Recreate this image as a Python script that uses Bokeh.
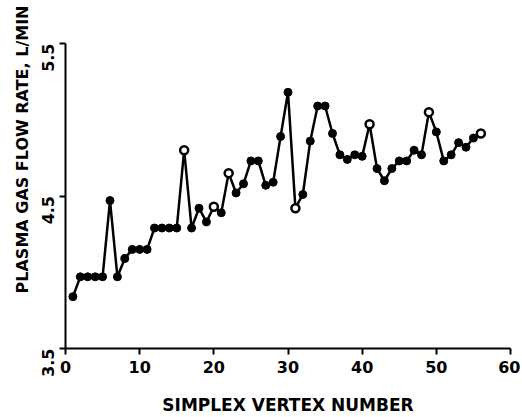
import math
from bokeh.plotting import figure
from bokeh.models import Range1d, FixedTicker, Title
from bokeh.embed import file_html
from bokeh.resources import INLINE

vertex = list(range(1, 57))
flow_rate = [3.84, 3.97, 3.97, 3.97, 3.97, 4.47, 3.97, 4.09, 4.15, 4.15,
             4.15, 4.29, 4.29, 4.29, 4.29, 4.80, 4.29, 4.42, 4.33, 4.43,
             4.39, 4.65, 4.52, 4.58, 4.73, 4.73, 4.57, 4.59, 4.89, 5.18,
             4.42, 4.51, 4.86, 5.09, 5.09, 4.91, 4.77, 4.74, 4.77, 4.76,
             4.97, 4.68, 4.60, 4.68, 4.73, 4.73, 4.80, 4.77, 5.05, 4.92,
             4.73, 4.77, 4.85, 4.82, 4.88, 4.91]
open_vertices = [16, 20, 22, 31, 41, 49, 56]
x_ticks = [0, 10, 20, 30, 40, 50, 60]
y_ticks = [3.5, 4.5, 5.5]
x_title = "SIMPLEX VERTEX NUMBER"
y_title = "PLASMA GAS FLOW RATE, L/MIN"

FONT = "DejaVu Sans"

p = figure(width=520, height=417, output_backend="svg", toolbar_location=None,
           x_range=Range1d(0, 60), y_range=Range1d(3.5, 5.5),
           min_border_left=65, min_border_right=10, min_border_top=43,
           min_border_bottom=66)
p.outline_line_color = None
p.grid.visible = False
p.background_fill_color = "white"
p.border_fill_color = "white"

for ax in (p.xaxis[0], p.yaxis[0]):
    ax.axis_line_width = 2
    ax.axis_line_color = "black"
    ax.major_tick_line_width = 2
    ax.major_tick_line_color = "black"
    ax.major_tick_out = 6
    ax.major_tick_in = 0
    ax.minor_tick_line_color = None
    ax.major_label_text_font = FONT
    ax.major_label_text_font_size = "16px"
    ax.major_label_text_font_style = "bold"
    ax.major_label_text_color = "black"

p.xaxis[0].ticker = FixedTicker(ticks=x_ticks)
p.yaxis[0].ticker = FixedTicker(ticks=y_ticks)
p.xaxis[0].major_label_standoff = 6
p.yaxis[0].major_label_orientation = math.pi / 2
p.yaxis[0].major_label_standoff = 12

p.xaxis[0].axis_label = x_title
p.xaxis[0].axis_label_standoff = 19
p.xaxis[0].axis_label_text_font = FONT
p.xaxis[0].axis_label_text_font_size = "17px"
p.xaxis[0].axis_label_text_font_style = "bold"
p.xaxis[0].axis_label_text_color = "black"

p.add_layout(Title(text=y_title, align="right", offset=-38,
                   text_font=FONT, text_font_size="16px",
                   text_font_style="bold", text_color="black",
                   standoff=2), "left")

closed_x = [v for v in vertex if v not in open_vertices]
closed_y = [flow_rate[i] for i, v in enumerate(vertex) if v not in open_vertices]
open_x = [v for v in vertex if v in open_vertices]
open_y = [flow_rate[i] for i, v in enumerate(vertex) if v in open_vertices]

p.line(vertex, flow_rate, line_color="black", line_width=2.5)
p.scatter(closed_x, closed_y, marker="circle", size=8, fill_color="black",
          line_color="black", line_width=1)
p.scatter(open_x, open_y, marker="circle", size=8, fill_color="white",
          line_color="black", line_width=2.5)

open("out.html", "w").write(file_html(p, INLINE))
